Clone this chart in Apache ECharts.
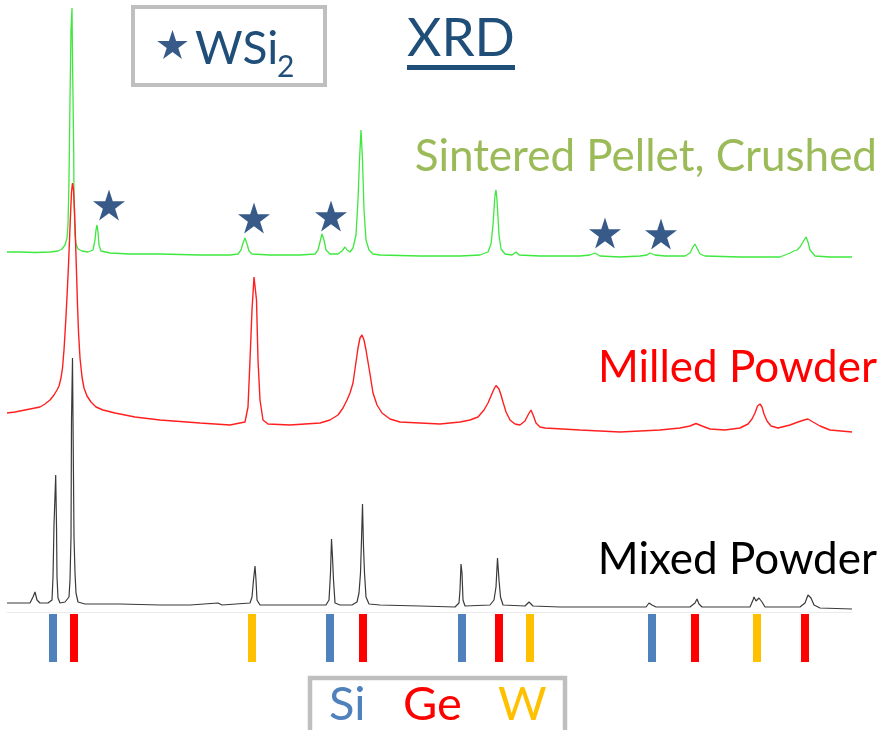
<!DOCTYPE html>
<html>
<head>
<meta charset="utf-8">
<title>XRD</title>
<script src="https://cdn.jsdelivr.net/npm/echarts@6/dist/echarts.min.js"></script>
<style>
  html, body { margin: 0; padding: 0; background: #ffffff; }
  #chart { width: 883px; height: 730px; }
</style>
</head>
<body>
<div id="chart"></div>
<script>
// 2θ (deg) vs. intensity (counts, stacked with offsets for clarity)
const sinteredPellet = [
  [10.0,720],[11.3,720],[12.8,719],[14.3,720],[15.1,722],[15.5,726],[15.8,734],[16.0,748],[16.1,774],
  [16.2,864],[16.3,1024],[16.4,1164],[16.5,1208],[16.55,1104],[16.6,1030],[16.67,924],[16.7,824],
  [16.8,754],[16.9,736],[17.1,726],[17.5,722],[18.1,720],[18.6,724],[18.8,744],[18.9,764],[19.0,774],
  [19.1,760],[19.2,734],[19.4,722],[20.3,718],[22.3,716],[25.3,716],[29.3,714],[32.3,714],[33.1,716],
  [33.4,724],[33.6,738],[33.8,748],[34.0,736],[34.2,722],[34.5,716],[36.3,714],[39.3,714],[40.8,716],
  [41.1,724],[41.3,740],[41.5,756],[41.7,744],[41.9,724],[42.3,716],[43.1,716],[43.5,722],[43.8,730],
  [44.0,724],[44.3,720],[44.6,728],[44.9,754],[45.1,824],[45.25,904],[45.4,964],[45.55,904],[45.7,804],
  [45.9,744],[46.2,724],[46.6,716],[47.3,714],[51.3,712],[55.3,712],[57.3,714],[58.1,720],[58.4,736],
  [58.6,774],[58.8,834],[58.9,844],[59.0,824],[59.2,754],[59.4,726],[59.8,716],[60.5,714],[60.9,720],
  [61.2,714],[63.3,712],[67.3,712],[68.3,714],[68.8,718],[69.3,712],[71.3,710],[73.3,712],[74.0,714],
  [74.3,718],[74.8,714],[75.8,712],[77.8,712],[78.3,718],[78.6,730],[78.8,736],[79.0,728],[79.3,716],
  [79.8,712],[83.3,710],[87.3,710],[88.3,718],[88.7,722],[89.0,724],[89.3,730],[89.6,740],[89.9,750],
  [90.1,740],[90.3,724],[90.8,712],[92.3,710],[94.5,710]
];

const milledPowder = [
  [10.0,398],[10.8,400],[11.8,404],[13.3,410],[13.8,416],[14.3,424],[14.7,434],[15.0,444],[15.2,452],
  [15.4,468],[15.55,488],[15.7,524],[15.85,574],[16.0,630],[16.15,694],[16.25,744],[16.35,794],
  [16.45,840],[16.55,858],[16.65,844],[16.75,804],[16.85,744],[16.95,680],[17.05,614],[17.15,560],
  [17.3,508],[17.5,470],[17.7,448],[18.0,432],[18.4,420],[18.9,410],[19.6,404],[20.8,398],[22.8,390],
  [25.3,384],[29.3,378],[32.3,374],[33.8,380],[34.1,410],[34.3,504],[34.5,604],[34.7,670],[34.8,670],
  [34.95,624],[35.1,504],[35.3,424],[35.6,384],[36.1,376],[38.3,374],[41.3,378],[42.3,384],[43.1,394],
  [43.6,408],[44.0,424],[44.3,438],[44.6,458],[44.9,500],[45.1,528],[45.3,548],[45.5,554],[45.7,544],
  [45.9,524],[46.1,500],[46.3,476],[46.6,438],[47.0,414],[47.5,398],[48.3,386],[49.3,380],[51.3,378],
  [53.3,376],[55.3,380],[56.3,384],[57.1,390],[57.7,404],[58.1,418],[58.4,432],[58.7,446],[58.9,453],
  [59.05,454],[59.2,446],[59.4,434],[59.6,420],[59.9,400],[60.3,384],[60.8,376],[61.3,374],[61.8,382],
  [62.1,394],[62.4,404],[62.65,392],[62.9,378],[63.3,370],[63.8,368],[67.3,364],[71.3,360],[75.3,364],
  [77.3,368],[78.3,372],[78.9,377],[79.5,372],[80.3,366],[81.8,364],[83.3,368],[84.1,376],[84.5,386],
  [84.8,398],[85.05,412],[85.3,416],[85.5,410],[85.7,396],[86.0,382],[86.4,372],[87.1,368],[88.3,374],
  [89.1,380],[89.7,384],[90.1,386],[90.6,380],[91.3,372],[92.3,364],[94.5,360]
];

const mixedPowder = [
  [10.0,18],[11.3,18],[12.3,18],[12.6,30],[12.8,40],[13.0,24],[13.3,18],[14.1,18],[14.5,24],[14.6,70],
  [14.7,174],[14.87,274],[14.95,174],[15.0,70],[15.1,28],[15.3,18],[15.8,20],[16.2,30],[16.3,64],
  [16.4,150],[16.45,384],[16.55,508],[16.6,384],[16.7,150],[16.8,78],[16.9,38],[17.1,20],[17.8,16],
  [21.3,16],[25.3,14],[28.3,14],[31.1,18],[31.5,14],[34.3,18],[34.5,30],[34.65,64],[34.8,92],[34.9,64],
  [35.0,24],[35.3,14],[40.3,14],[41.9,14],[42.2,24],[42.35,78],[42.45,146],[42.55,110],[42.65,64],
  [42.8,18],[43.3,14],[44.5,14],[45.0,20],[45.2,38],[45.35,78],[45.45,144],[45.55,216],[45.65,130],
  [45.75,78],[45.9,30],[46.2,16],[47.3,14],[51.3,12],[54.8,10],[55.2,18],[55.3,44],[55.4,96],[55.5,78],
  [55.6,24],[55.8,12],[58.3,14],[58.7,24],[58.9,50],[59.05,108],[59.2,64],[59.35,30],[59.6,14],
  [61.8,12],[62.2,20],[62.6,12],[65.3,10],[73.9,10],[74.2,18],[74.3,20],[74.5,14],[74.9,10],[78.3,10],
  [78.8,18],[79.0,26],[79.2,16],[79.5,10],[84.3,10],[84.6,24],[84.7,30],[84.9,22],[85.2,28],[85.5,20],
  [85.8,10],[89.3,10],[89.8,18],[90.1,34],[90.2,38],[90.4,28],[90.7,14],[91.3,8],[94.5,6]
];

// Reference reflection positions (2θ)
const siLines = [14.6, 42.3, 55.5, 74.5];
const geLines = [16.7, 45.6, 59.2, 78.8, 89.8];
const wLines  = [34.5, 62.3, 85.0];

// WSi2 reflections marked above the sintered pattern
const wsi2Marks = [[20.2, 814], [34.7, 788], [42.4, 792], [69.8, 758], [75.4, 756]];

const STAR = 'path://M50,0 L61.23,34.55 L97.55,34.55 L68.17,55.9 L79.39,90.45 L50,69.1 L20.61,90.45 L31.83,55.9 L2.45,34.55 L38.77,34.55 Z';
const FONT = 'Lato, "Open Sans", sans-serif';

// five-pointed star outline for the key, centred at (cx, cy)
function starPoints(cx, cy, rOuter, rInner) {
  const pts = [];
  for (let i = 0; i < 10; i++) {
    const r = i % 2 === 0 ? rOuter : rInner;
    const a = -Math.PI / 2 + i * Math.PI / 5;
    pts.push([cx + r * Math.cos(a), cy + r * Math.sin(a)]);
  }
  return pts;
}

const chart = echarts.init(document.getElementById('chart'), null, { renderer: 'canvas' });

function stickSeries(name, values, color) {
  return {
    name: name,
    type: 'scatter',
    xAxisIndex: 1,
    yAxisIndex: 1,
    symbol: 'rect',
    symbolSize: [8, 48],
    itemStyle: { color: color, opacity: 1 },
    silent: true,
    data: values.map(v => [v, 0.5])
  };
}

function label(text, x, y, size, color, align) {
  return {
    type: 'text', x: x, y: y, silent: true,
    style: {
      text: text, fill: color,
      font: size + 'px ' + FONT,
      align: align || 'left', verticalAlign: 'middle'
    }
  };
}

const option = {
  animation: false,
  backgroundColor: '#ffffff',
  grid: [
    { left: 7, right: 31, top: 2, bottom: 118, containLabel: false },
    { left: 7, right: 31, top: 614, height: 48, containLabel: false }
  ],
  xAxis: [
    {
      type: 'value', gridIndex: 0, min: 10, max: 94.5,
      axisLine: { show: true, lineStyle: { color: '#ebebeb', width: 1 } },
      axisTick: { show: false }, axisLabel: { show: false }, splitLine: { show: false }
    },
    { type: 'value', gridIndex: 1, min: 10, max: 94.5, show: false }
  ],
  yAxis: [
    { type: 'value', gridIndex: 0, min: 0, max: 1220, show: false },
    { type: 'value', gridIndex: 1, min: 0, max: 1, show: false }
  ],
  series: [
    {
      name: 'Sintered Pellet, Crushed', type: 'line', data: sinteredPellet,
      showSymbol: false, silent: true,
      lineStyle: { color: '#3ee83e', width: 1.3 }
    },
    {
      name: 'Milled Powder', type: 'line', data: milledPowder,
      showSymbol: false, silent: true,
      lineStyle: { color: '#ff1f1f', width: 1.4 }
    },
    {
      name: 'Mixed Powder', type: 'line', data: mixedPowder,
      showSymbol: false, silent: true,
      lineStyle: { color: '#3a3a3a', width: 1.2 }
    },
    {
      name: 'WSi2', type: 'scatter', data: wsi2Marks,
      symbol: STAR, symbolSize: [32, 31], silent: true,
      itemStyle: { color: '#385a88', opacity: 1 }
    },
    stickSeries('Si', siLines, '#4f81bd'),
    stickSeries('Ge', geLines, '#ff0000'),
    stickSeries('W', wLines, '#ffc000')
  ],
  graphic: [
    // WSi2 key
    { type: 'rect', silent: true, shape: { x: 133, y: 7, width: 192, height: 78 },
      style: { fill: 'none', stroke: '#bfbfbf', lineWidth: 4 } },
    { type: 'polygon', silent: true,
      shape: { points: starPoints(172.5, 46, 16, 6.1) },
      style: { fill: '#385a88' } },
    label('WSi', 195, 49, 46, '#1f4e79'),
    label('2', 277, 67, 30, '#1f4e79'),
    // Title
    label('XRD', 407, 39, 53, '#1f4e79'),
    { type: 'rect', silent: true, shape: { x: 407, y: 65, width: 108, height: 5 },
      style: { fill: '#1f4e79' } },
    // Pattern names
    label('Sintered Pellet, Crushed', 877, 157, 44, '#9bbb59', 'right'),
    label('Milled Powder', 877, 368, 44, '#ff0000', 'right'),
    label('Mixed Powder', 877, 560, 44, '#000000', 'right'),
    // Phase key
    { type: 'rect', silent: true, shape: { x: 310, y: 678, width: 255, height: 70 },
      style: { fill: 'none', stroke: '#bfbfbf', lineWidth: 4.5 } },
    label('Si', 329, 705, 47, '#4f81bd'),
    label('Ge', 403, 705, 47, '#ff0000'),
    label('W', 498, 705, 47, '#ffc000')
  ]
};

chart.setOption(option);
</script>
</body>
</html>
